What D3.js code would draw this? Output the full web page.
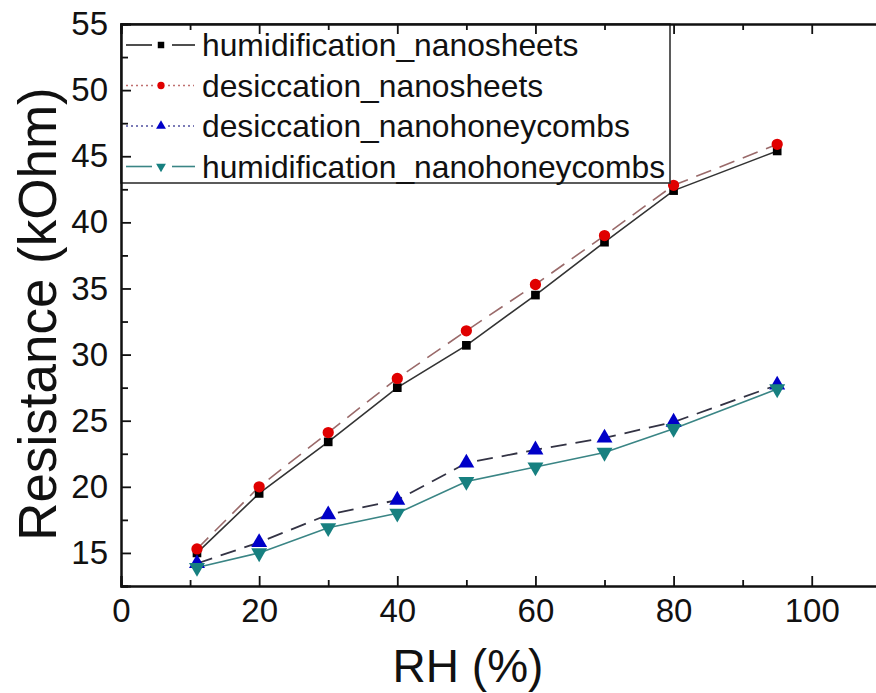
<!DOCTYPE html>
<html lang="en">
<head>
<meta charset="UTF-8">
<title>Resistance vs RH</title>
<script src="https://cdn.jsdelivr.net/npm/d3@7"></script>
<style>
  body { margin: 0; background: #fff; }
  svg { display: block; font-family: "Liberation Sans", Arial, sans-serif; }
</style>
</head>
<body>
<svg id="chart"></svg>
<script>
// RH (%) values
var rh = [11, 20, 30, 40, 50, 60, 70, 80, 95];

// resistance (kOhm)
var humNanosheets   = [15.0, 19.5, 23.4, 27.5, 30.7, 34.5, 38.5, 42.4, 45.4];
var desNanosheets   = [15.3, 20.0, 24.1, 28.2, 31.8, 35.3, 39.0, 42.8, 45.9];
var desHoneycombs   = [14.2, 15.8, 17.9, 19.0, 21.8, 22.8, 23.7, 24.9, 27.7];
var humHoneycombs   = [13.9, 15.0, 16.9, 18.0, 20.4, 21.5, 22.6, 24.4, 27.4];

var seriesNames = ["humidification_nanosheets", "desiccation_nanosheets",
                   "desiccation_nanohoneycombs", "humidification_nanohoneycombs"];

var xTicks = [0, 20, 40, 60, 80, 100];
var yTicks = [15, 20, 25, 30, 35, 40, 45, 50, 55];

var width = 876, height = 693;
var svg = d3.select("#chart").attr("width", width).attr("height", height);

var x = d3.scaleLinear().domain([0, 110]).range([121, 880.8]);
var y = d3.scaleLinear().domain([12.5, 55]).range([586, 24]);

var series = [
  { name: seriesNames[0], values: humNanosheets, line: "#333", dash: null, lw: 1.6,
    marker: "square", color: "#000", legendDash: "solid", legendLine: "#222" },
  { name: seriesNames[1], values: desNanosheets, line: "#9a6a6a", dash: "16,9", lw: 1.6,
    marker: "circle", color: "#e00000", legendDash: "2,3", legendLine: "#c07070" },
  { name: seriesNames[2], values: desHoneycombs, line: "#333344", dash: "16,9", lw: 1.8,
    marker: "triangle", color: "#0000c8", legendDash: "2,3", legendLine: "#5050a0" },
  { name: seriesNames[3], values: humHoneycombs, line: "#3a8585", dash: null, lw: 1.6,
    marker: "triangleDown", color: "#178080", legendDash: "solid", legendLine: "#3a8585" }
];

function symbolFor(m) {
  if (m === "square") return d3.symbol().type(d3.symbolSquare).size(75);
  if (m === "circle") return d3.symbol().type(d3.symbolCircle).size(100);
  return d3.symbol().type(d3.symbolTriangle).size(110);
}

var line = d3.line()
  .x(function(d) { return x(d[0]); })
  .y(function(d) { return y(d[1]); });

/* lines and markers */
var plot = svg.append("g").attr("class", "plot");
series.forEach(function(s) {
  var pts = rh.map(function(r, i) { return [r, s.values[i]]; });
  plot.append("path")
    .datum(pts)
    .attr("d", line)
    .attr("fill", "none")
    .attr("stroke", s.line)
    .attr("stroke-width", s.lw)
    .attr("stroke-dasharray", s.dash);
});
series.forEach(function(s) {
  var pts = rh.map(function(r, i) { return [r, s.values[i]]; });
  plot.selectAll(null)
    .data(pts)
    .enter()
    .append("path")
    .attr("d", symbolFor(s.marker))
    .attr("fill", s.color)
    .attr("transform", function(d) {
      return "translate(" + x(d[0]) + "," + y(d[1]) + ")" +
        (s.marker === "triangleDown" ? " rotate(180)" : "");
    });
});

/* legend */
var legX = x(0), legY = y(55), legW = 549, legH = 159;
var legend = svg.append("g").attr("class", "legend");
legend.append("rect")
  .attr("x", legX).attr("y", legY)
  .attr("width", legW).attr("height", legH)
  .attr("fill", "#fff")
  .attr("stroke", "#333")
  .attr("stroke-width", 1.6);

series.forEach(function(s, i) {
  var base = 56 + i * 40.5;
  var cy = base - 11;
  var g = legend.append("g");
  if (s.legendDash === "solid") {
    g.append("line").attr("x1", 126).attr("x2", 152).attr("y1", cy).attr("y2", cy)
      .attr("stroke", s.legendLine).attr("stroke-width", 1.6);
    g.append("line").attr("x1", 172).attr("x2", 195).attr("y1", cy).attr("y2", cy)
      .attr("stroke", s.legendLine).attr("stroke-width", 1.6);
  } else {
    g.append("line").attr("x1", 126).attr("x2", 154).attr("y1", cy).attr("y2", cy)
      .attr("stroke", s.legendLine).attr("stroke-width", 1.4).attr("stroke-dasharray", s.legendDash);
    g.append("line").attr("x1", 168).attr("x2", 194).attr("y1", cy).attr("y2", cy)
      .attr("stroke", s.legendLine).attr("stroke-width", 1.4).attr("stroke-dasharray", s.legendDash);
  }
  g.append("path")
    .attr("d", d3.symbol().type(s.marker === "square" ? d3.symbolSquare :
                s.marker === "circle" ? d3.symbolCircle : d3.symbolTriangle).size(42))
    .attr("fill", s.color)
    .attr("transform", "translate(161," + cy + ")" + (s.marker === "triangleDown" ? " rotate(180)" : ""));
  g.append("text")
    .attr("x", 202).attr("y", base)
    .attr("font-size", 31.8)
    .attr("fill", "#111")
    .text(s.name);
});

/* axes */
var axisG = svg.append("g").attr("class", "axes");

var xAxis = d3.axisBottom(x).tickValues(xTicks).tickSize(-10).tickPadding(13)
  .tickFormat(d3.format("d"));
var xMinor = d3.axisBottom(x).tickValues([10, 30, 50, 70, 90]).tickSize(-6).tickFormat("");
var xTop = d3.axisTop(x).tickValues(xTicks.concat([110])).tickSize(-10).tickFormat("");
var xTopMinor = d3.axisTop(x).tickValues([10, 30, 50, 70, 90]).tickSize(-6).tickFormat("");

var yAxis = d3.axisLeft(y).tickValues(yTicks).tickSize(-10).tickPadding(13)
  .tickFormat(d3.format("d"));
var yMinor = d3.axisLeft(y).tickValues([12.5, 17.5, 22.5, 27.5, 32.5, 37.5, 42.5, 47.5, 52.5])
  .tickSize(-7).tickFormat("");

axisG.append("g").attr("transform", "translate(0," + y(12.5) + ")").call(xAxis);
axisG.append("g").attr("transform", "translate(0," + y(12.5) + ")").call(xMinor);
axisG.append("g").attr("transform", "translate(0," + y(55) + ")").call(xTop);
axisG.append("g").attr("transform", "translate(0," + y(55) + ")").call(xTopMinor);
axisG.append("g").attr("transform", "translate(" + x(0) + ",0)").call(yAxis);
axisG.append("g").attr("transform", "translate(" + x(0) + ",0)").call(yMinor);

axisG.selectAll(".domain").attr("stroke", "#111").attr("stroke-width", 2);
axisG.selectAll(".tick line").attr("stroke", "#111").attr("stroke-width", 1.8);
axisG.selectAll(".tick text")
  .attr("font-size", 33)
  .attr("font-family", "'Liberation Sans', Arial, sans-serif")
  .attr("fill", "#111");

/* titles */
svg.append("text")
  .attr("x", 468).attr("y", 682)
  .attr("text-anchor", "middle")
  .attr("font-size", 46)
  .attr("fill", "#111")
  .text("RH (%)");

svg.append("text")
  .attr("transform", "translate(56,314) rotate(-90)")
  .attr("text-anchor", "middle")
  .attr("font-size", 53)
  .attr("fill", "#111")
  .text("Resistance (kOhm)");
</script>
</body>
</html>
